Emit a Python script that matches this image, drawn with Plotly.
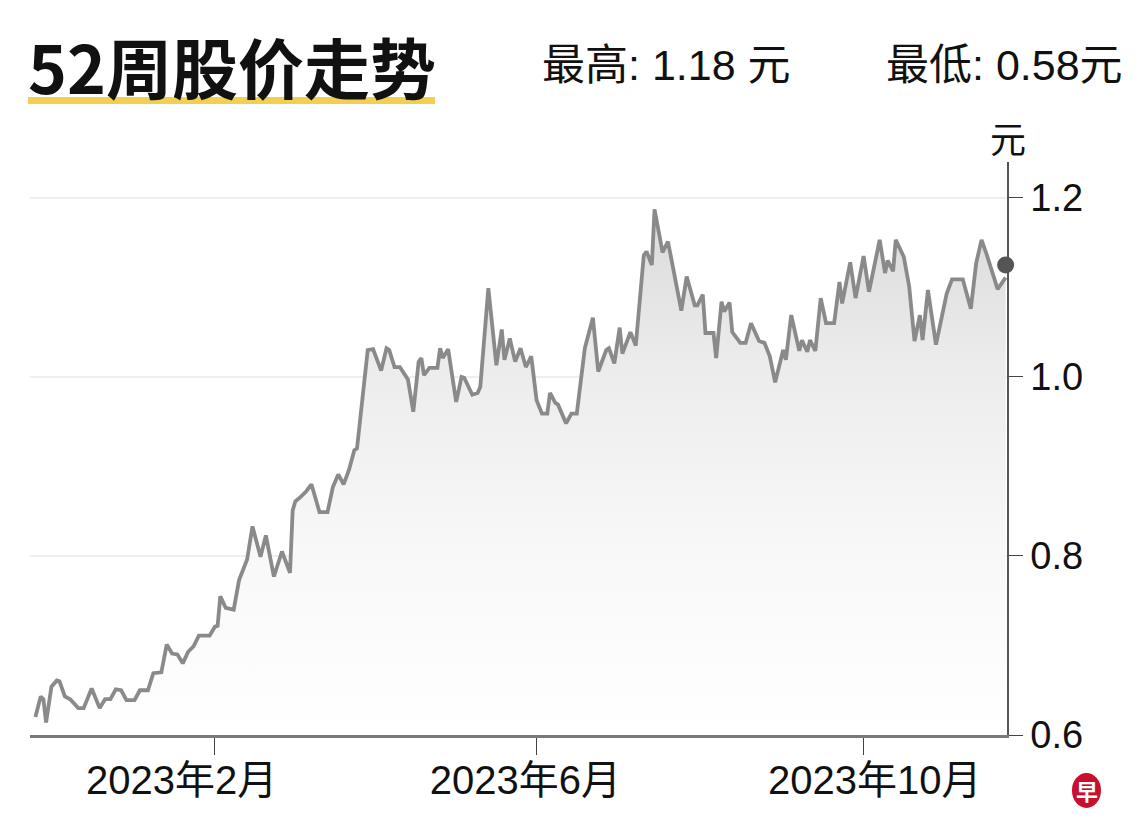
import plotly.graph_objects as go

# ---- data ----
dates = [
    "2022-11-26", "2022-11-28", "2022-11-29", "2022-11-30", "2022-12-02", "2022-12-04", "2022-12-05",
    "2022-12-07", "2022-12-09", "2022-12-12", "2022-12-14", "2022-12-17", "2022-12-20", "2022-12-22",
    "2022-12-24", "2022-12-26", "2022-12-28", "2022-12-30",
    "2023-01-02", "2023-01-04", "2023-01-07", "2023-01-09", "2023-01-12", "2023-01-14", "2023-01-16",
    "2023-01-18", "2023-01-20", "2023-01-22", "2023-01-24", "2023-01-26", "2023-01-30",
    "2023-02-01", "2023-02-02", "2023-02-03", "2023-02-05", "2023-02-08", "2023-02-10", "2023-02-13",
    "2023-02-15", "2023-02-18", "2023-02-20", "2023-02-23", "2023-02-26",
    "2023-03-01", "2023-03-02", "2023-03-03", "2023-03-05", "2023-03-07", "2023-03-09", "2023-03-12",
    "2023-03-15", "2023-03-17", "2023-03-19", "2023-03-21", "2023-03-23", "2023-03-25", "2023-03-26",
    "2023-03-28", "2023-03-30",
    "2023-04-01", "2023-04-04", "2023-04-06", "2023-04-07", "2023-04-09", "2023-04-11", "2023-04-14",
    "2023-04-16", "2023-04-18", "2023-04-19", "2023-04-20", "2023-04-22", "2023-04-25", "2023-04-26",
    "2023-04-27", "2023-04-29",
    "2023-05-02", "2023-05-04", "2023-05-05", "2023-05-08", "2023-05-10", "2023-05-11", "2023-05-14",
    "2023-05-17", "2023-05-19", "2023-05-20", "2023-05-22", "2023-05-24", "2023-05-26", "2023-05-28",
    "2023-05-30",
    "2023-06-01", "2023-06-03", "2023-06-05", "2023-06-06", "2023-06-08", "2023-06-09", "2023-06-12",
    "2023-06-14", "2023-06-16", "2023-06-19", "2023-06-22", "2023-06-24", "2023-06-27", "2023-06-28",
    "2023-06-30",
    "2023-07-02", "2023-07-03", "2023-07-06", "2023-07-08", "2023-07-11", "2023-07-12", "2023-07-14",
    "2023-07-15", "2023-07-18", "2023-07-20", "2023-07-21", "2023-07-25", "2023-07-27", "2023-07-30",
    "2023-07-31",
    "2023-08-02", "2023-08-03", "2023-08-06", "2023-08-07", "2023-08-09", "2023-08-10", "2023-08-12",
    "2023-08-13", "2023-08-16", "2023-08-18", "2023-08-20", "2023-08-23", "2023-08-25", "2023-08-27",
    "2023-08-29",
    "2023-09-01", "2023-09-02", "2023-09-04", "2023-09-07", "2023-09-08", "2023-09-10", "2023-09-11",
    "2023-09-13", "2023-09-15", "2023-09-17", "2023-09-20", "2023-09-22", "2023-09-23", "2023-09-26",
    "2023-09-28",
    "2023-10-01", "2023-10-03", "2023-10-07", "2023-10-09", "2023-10-10", "2023-10-12", "2023-10-13",
    "2023-10-16", "2023-10-18", "2023-10-20", "2023-10-22", "2023-10-23", "2023-10-25", "2023-10-28",
    "2023-11-01", "2023-11-03", "2023-11-07", "2023-11-10", "2023-11-12", "2023-11-14", "2023-11-16",
    "2023-11-20", "2023-11-23",
]

prices = [
    0.620, 0.643, 0.640, 0.614, 0.654, 0.661, 0.660, 0.643, 0.640, 0.630, 0.630, 0.652, 0.630, 0.640,
    0.640, 0.651, 0.650, 0.639,
    0.639, 0.650, 0.650, 0.669, 0.670, 0.701, 0.691, 0.690, 0.680, 0.693, 0.699, 0.711, 0.711,
    0.721, 0.722, 0.755, 0.742, 0.740, 0.773, 0.796, 0.833, 0.799, 0.823, 0.777, 0.805,
    0.781, 0.851, 0.861, 0.866, 0.872, 0.880, 0.849, 0.849, 0.877, 0.891, 0.880, 0.896, 0.918, 0.920,
    0.971, 1.030,
    1.031, 1.007, 1.032, 1.030, 1.011, 1.011, 0.997, 0.961, 1.017, 1.021, 1.002, 1.010, 1.010, 1.032,
    1.021, 1.031,
    0.972, 1.000, 0.999, 0.980, 0.982, 0.989, 1.099, 1.013, 1.053, 1.019, 1.043, 1.017, 1.032, 1.011,
    1.023,
    0.974, 0.959, 0.959, 0.982, 0.971, 0.969, 0.948, 0.959, 0.959, 1.032, 1.066, 1.006, 1.030, 1.032,
    1.015,
    1.055, 1.026, 1.050, 1.035, 1.136, 1.140, 1.125, 1.187, 1.139, 1.151, 1.136, 1.074, 1.112, 1.080,
    1.080,
    1.092, 1.049, 1.049, 1.021, 1.084, 1.073, 1.083, 1.050, 1.038, 1.038, 1.060, 1.040, 1.038, 1.023,
    0.994,
    1.030, 1.019, 1.069, 1.029, 1.041, 1.028, 1.041, 1.029, 1.088, 1.060, 1.060, 1.106, 1.082, 1.128,
    1.088,
    1.135, 1.095, 1.153, 1.116, 1.130, 1.118, 1.153, 1.134, 1.101, 1.040, 1.069, 1.041, 1.097, 1.036,
    1.093, 1.109, 1.109, 1.076, 1.127, 1.153, 1.136, 1.098, 1.111,
]

last_date = "2023-11-23"
last_price = 1.125

x_tick_vals = ["2023-02-01", "2023-06-01", "2023-10-01"]
x_tick_text = ["2023年2月", "2023年6月", "2023年10月"]
y_tick_vals = [0.6, 0.8, 1.0, 1.2]
y_tick_text = ["0.6", "0.8", "1.0", "1.2"]

title_text = "52周股价走势"
high_text = "最高: 1.18 元"
low_text = "最低: 0.58元"
unit_text = "元"
logo_text = "早"

FONT = "Liberation Sans, Noto Sans CJK SC, sans-serif"
CJK = "Noto Sans CJK SC, sans-serif"

# the reference's month labels sit slightly off-centre from their ticks;
# pad them with no-break spaces to nudge them the same way
NB = "\u00a0"
label_pad = [(0, 6), (0, 2), (2, 0)]  # (leading, trailing) spaces
x_tick_labels = [NB * a + t + NB * b for t, (a, b) in zip(x_tick_text, label_pad)]

fig = go.Figure()
fig.add_trace(go.Scatter(
    x=dates, y=prices, mode="lines",
    line=dict(color="#8a8a8a", width=3.8),
    fill="tozeroy",
    fillgradient=dict(type="vertical",
                      colorscale=[[0, "rgb(255,255,255)"], [0.35, "rgb(248,248,248)"],
                                  [0.7, "rgb(236,236,236)"], [1, "rgb(218,218,218)"]],
                      start=0.6, stop=1.19),
    hoverinfo="skip",
))
fig.add_trace(go.Scatter(
    x=[last_date], y=[last_price], mode="markers",
    marker=dict(color="#555555", size=17),
    cliponaxis=False,
    hoverinfo="skip",
))

# the page body has an 8px margin, so the figure is made 8px smaller and its margins shifted
fig.update_layout(
    width=1132, height=828,
    margin=dict(l=22, r=133, t=154, b=101),
    paper_bgcolor="white", plot_bgcolor="white",
    showlegend=False,
    xaxis=dict(
        type="date", range=["2022-11-24", "2023-11-23 12:00"],
        tickvals=x_tick_vals, ticktext=x_tick_labels,
        ticks="outside", ticklen=17, tickwidth=1.2, tickcolor="#444",
        ticklabelstandoff=-9,
        showline=True, linecolor="#7a7a7a", linewidth=2.5,
        showgrid=False, zeroline=False,
        tickfont=dict(family=FONT, size=40, color="#111"),
    ),
    yaxis=dict(
        side="right", range=[0.6, 1.24],
        tickvals=y_tick_vals, ticktext=y_tick_text,
        ticks="outside", ticklen=14, tickwidth=1.2, tickcolor="#444",
        showline=True, linecolor="#555", linewidth=1.5,
        showgrid=True, gridcolor="#efefef", gridwidth=2, zeroline=False,
        tickfont=dict(family=FONT, size=38, color="#111"),
    ),
    shapes=[
        dict(type="rect", xref="paper", yref="paper", x0=-0.002, x1=0.4145, y0=1.1012, y1=1.1134,
             fillcolor="#f2cf4f", line=dict(width=0)),
        dict(type="circle", xref="paper", yref="paper", x0=1.0665, x1=1.0962, y0=-0.1274, y1=-0.0663,
             fillcolor="#c8102e", line=dict(width=0)),
    ],
    annotations=[
        dict(text="<b>" + title_text + "</b>", xref="paper", yref="paper", x=-0.004, y=1.169,
             xanchor="left", yanchor="middle", showarrow=False,
             font=dict(family=CJK, size=66, color="#111")),
        dict(text=high_text, xref="paper", yref="paper", x=0.522, y=1.169,
             xanchor="left", yanchor="middle", showarrow=False,
             font=dict(family=FONT, size=43, color="#111")),
        dict(text=low_text, xref="paper", yref="paper", x=1.1208, y=1.169,
             xanchor="right", yanchor="middle", showarrow=False,
             font=dict(family=FONT, size=43, color="#111")),
        dict(text=unit_text, xref="paper", yref="paper", x=1.001, y=1.038,
             xanchor="center", yanchor="middle", showarrow=False,
             font=dict(family=FONT, size=36, color="#111")),
        dict(text="<b>" + logo_text + "</b>", xref="paper", yref="paper", x=1.0815, y=-0.0968,
             xanchor="center", yanchor="middle", showarrow=False,
             font=dict(family=CJK, size=22, color="white")),
    ],
)

fig.write_html("out.html", config={"displayModeBar": False})
